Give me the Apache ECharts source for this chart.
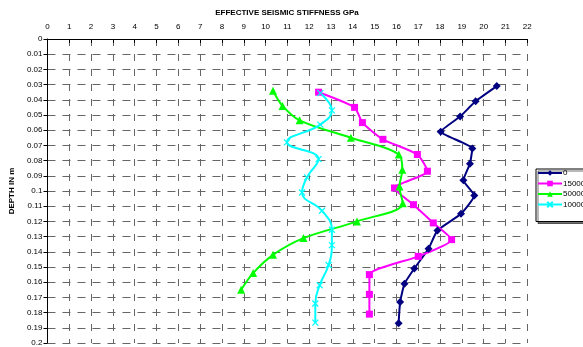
<!DOCTYPE html>
<html>
<head>
<meta charset="utf-8">
<script src="https://cdn.jsdelivr.net/npm/echarts@6/dist/echarts.min.js"></script>
<style>
html,body{margin:0;padding:0;background:#fff;}
#c{width:583px;height:347px;}
</style>
</head>
<body>
<div id="c"></div>
<script>
// Depths (m) and stiffness (GPa) per series
var seriesNames = ['0', '15000', '50000', '10000'];
var xTicks = [0,1,2,3,4,5,6,7,8,9,10,11,12,13,14,15,16,17,18,19,20,21,22];

var depth0 = [0.031,0.041,0.051,0.061,0.072,0.082,0.093,0.103,0.115,0.126,0.138,0.151,0.161,0.173,0.187];
var stiff0 = [20.6,19.63,18.92,18.03,19.48,19.37,19.07,19.57,18.96,17.88,17.47,16.82,16.37,16.17,16.1];

var depth1 = [0.035,0.045,0.055,0.066,0.076,0.087,0.098,0.109,0.121,0.132,0.143,0.155,0.168,0.181];
var stiff1 = [12.43,14.08,14.44,15.38,16.96,17.42,15.91,16.78,17.69,18.53,17.0,14.76,14.76,14.76];

var depth2 = [0.034,0.044,0.0535,0.065,0.076,0.086,0.097,0.108,0.12,0.131,0.142,0.154,0.165];
var stiff2 = [10.34,10.78,11.56,13.91,16.11,16.27,16.14,16.29,14.19,11.74,10.34,9.43,8.88];

var depth3 = [0.0356,0.047,0.0563,0.068,0.079,0.091,0.101,0.113,0.1255,0.1356,0.1487,0.162,0.174,0.1866];
var stiff3 = [12.51,13.04,12.51,10.98,12.43,11.9,11.67,12.59,13.04,13.04,12.89,12.48,12.28,12.28];

function pairs(xs, ys){ return xs.map(function(v,i){ return [v, ys[i]]; }); }

var FONT = 'Liberation Sans';
var chart = echarts.init(document.getElementById('c'), null, {renderer:'canvas'});

var crossPath = 'path://M0,0L10,10M10,0L0,10';

function mkSeries(name, data, color, symbol, size, smooth){
  return {
    name: name, type: 'line', data: data, smooth: smooth,
    symbol: symbol, symbolSize: size,
    lineStyle: {color: color, width: 2},
    itemStyle: {color: color, borderColor: color, borderWidth: symbol === crossPath ? 1.2 : 0},
    emphasis: {disabled: true},
    animation: false, z: 3
  };
}

chart.setOption({
  animation: false,
  title: {
    text: 'EFFECTIVE SEISMIC STIFFNESS GPa',
    left: 287, top: 9, padding: 0, textAlign: 'center',
    textStyle: {fontFamily: FONT, fontSize: 8, fontWeight: 'bold', color: '#000'}
  },
  grid: {left: 46.7, top: 39, right: 55.7, bottom: 2.6, containLabel: false},
  legend: {
    orient: 'vertical', left: 536, top: 169,
    data: seriesNames,
    itemWidth: 24, itemHeight: 7, itemGap: 2.5,
    padding: [0, 10, 13, 1],
    borderColor: '#000', borderWidth: 1,
    backgroundColor: '#fff',
    shadowColor: 'rgba(0,0,0,0.55)', shadowOffsetX: 2, shadowOffsetY: 2, shadowBlur: 0,
    textStyle: {fontFamily: FONT, fontSize: 8, color: '#000', padding: [0,0,0,-4]}
  },
  xAxis: {
    type: 'value', position: 'top', min: 0, max: 22, interval: 1,
    axisLine: {show: true, lineStyle: {color: '#000', width: 1}},
    axisTick: {show: true, inside: true, length: 4, lineStyle: {color: '#000'}},
    axisLabel: {fontFamily: FONT, fontSize: 8, color: '#000', margin: 8,
      formatter: function(v){ return xTicks.indexOf(v) >= 0 ? String(v) : ''; }},
    splitLine: {show: true, lineStyle: {color: '#666', width: 1, type: [7, 8]}}
  },
  yAxis: {
    type: 'value', inverse: true, min: 0, max: 0.2, interval: 0.01,
    name: 'DEPTH IN m', nameLocation: 'middle', nameGap: 22, nameRotate: 90,
    nameTextStyle: {fontFamily: FONT, fontSize: 8, fontWeight: 'bold', color: '#000'},
    axisLine: {show: true, lineStyle: {color: '#000', width: 1}},
    axisTick: {show: true, inside: false, length: 4, lineStyle: {color: '#000'}},
    axisLabel: {fontFamily: FONT, fontSize: 8, color: '#000', margin: 5,
      formatter: function(v){ return String(Number(v.toFixed(2))); }},
    splitLine: {show: true, lineStyle: {color: '#666', width: 1, type: [8, 7]}}
  },
  series: [
    mkSeries(seriesNames[0], pairs(stiff0, depth0), '#000080', 'diamond', 8, 0.15),
    mkSeries(seriesNames[1], pairs(stiff1, depth1), '#FF00FF', 'rect', 7, 0.2),
    mkSeries(seriesNames[2], pairs(stiff2, depth2), '#00FF00', 'triangle', 8, 0.35),
    mkSeries(seriesNames[3], pairs(stiff3, depth3), '#00FFFF', crossPath, 6, 0.45)
  ]
});
</script>
</body>
</html>
